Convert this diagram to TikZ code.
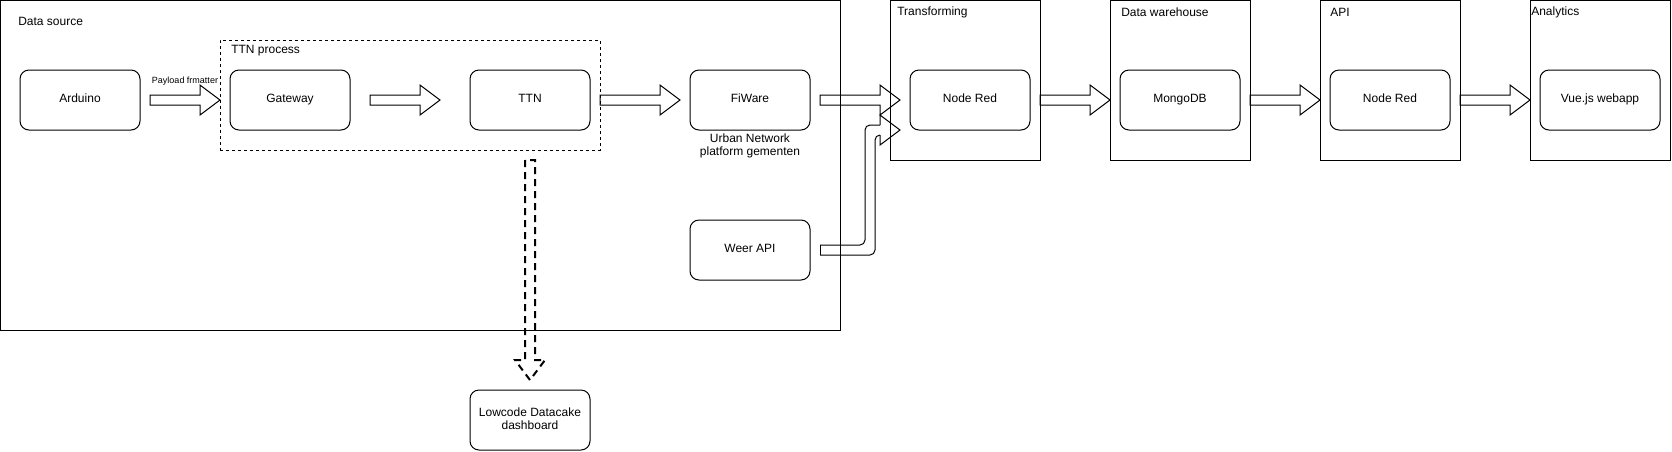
\documentclass[tikz,border=0pt]{standalone}
\usepackage{fontspec}
\setmainfont{Liberation Sans}
\usetikzlibrary{calc}

% hollow block arrow from one node to the next (gaps in px)
\newcommand\flexarrow[4]{%
  \coordinate (ft) at ($(#1.east)+(#2,0)$);
  \coordinate (fh) at ($(#3.west)+(-#4,0)$);
  \draw[flexline] ($(ft)+(0,-5)$) -- ($(fh)+(-20,-5)$) -- ($(fh)+(-20,-15)$) -- (fh)
    -- ($(fh)+(-20,15)$) -- ($(fh)+(-20,5)$) -- ($(ft)+(0,5)$) -- cycle;}

\begin{document}
\begin{tikzpicture}[x=0.75pt, y=-0.75pt, font=\fontsize{9}{10.1}\selectfont]
\tikzstyle{block}=[draw, line width=0.75pt, rounded corners=6.75pt, minimum width=90pt, minimum height=45pt,
  text centered, align=center, text depth=2.25pt, anchor=north west, inner sep=0pt, outer sep=0pt]
\tikzstyle{group}=[draw, line width=0.75pt, anchor=north west, inner sep=0pt, outer sep=0pt, minimum height=120pt]
\tikzstyle{title}=[anchor=west, inner sep=0pt]
\tikzstyle{flexline}=[line width=0.75pt, line join=miter]
\tikzstyle{dashline}=[line width=1.5pt, dash pattern=on 5.25pt off 3.75pt]
\useasboundingbox (0,0) rectangle (1672,451);

% containers
\node[group, minimum width=630pt, minimum height=247.5pt] (source) at (0.5,0.5) {};
\node[group, minimum width=285pt, minimum height=82.5pt, dash pattern=on 2.25pt off 2.25pt] (ttnproc) at (220,40) {};
\node[group, minimum width=112.5pt] (transform) at (890,0.5) {};
\node[group, minimum width=105pt] (dwh) at (1110,0.5) {};
\node[group, minimum width=105pt] (api) at (1320,0.5) {};
\node[group, minimum width=105pt] (analytics) at (1530,0.5) {};

\node[title] (sourcet) at (18,21) {Data source};
\node[title] (ttnproct) at (231,51) {TTN process};
\node[title] (transformt) at (897,12) {Transforming};
\node[title] (dwht) at (1121,12) {Data warehouse};
\node[title] (apit) at (1330,12) {API};
\node[title] (analyticst) at (1531,12) {Analytics};

% blocks
\node[block] (arduino) at (20,70) {Arduino};
\node[block] (gateway) at (230,70) {Gateway};
\node[block] (ttn) at (470,70) {TTN};
\node[block] (fiware) at (690,70) {FiWare};
\node[block] (weer) at (690,220) {Weer API};
\node[block] (lowcode) at (470,390) {Lowcode Datacake\\dashboard};
\node[block] (nodered) at (910,70) {Node Red};
\node[block] (mongodb) at (1120,70) {MongoDB};
\node[block] (noderedapi) at (1330,70) {Node Red};
\node[block] (vue) at (1540,70) {Vue.js webapp};

\node[inner sep=0pt, font=\fontsize{6.75}{8}\selectfont] (payload) at (185,81) {Payload frmatter};
\node[inner sep=0pt, align=center] (urban) at (750,146) {Urban Network\\platform gementen};

% arrows
\flexarrow{arduino}{10}{gateway}{10}
\flexarrow{gateway}{20}{ttn}{30}
\flexarrow{ttn}{10}{fiware}{10}
\flexarrow{fiware}{10}{nodered}{10}
\flexarrow{nodered}{10}{mongodb}{10}
\flexarrow{mongodb}{10}{noderedapi}{10}
\flexarrow{noderedapi}{10}{vue}{10}

\coordinate (wt) at ($(weer.east)+(10,0)$);
\coordinate (wh) at ($(nodered.south west)+(-10,0)$);
\draw[flexline, rounded corners=3.75pt] ($(wt)+(0,-5)$) -- ($(wt)+(45,-5)$) -- ($(wh)+(-35,-5)$) -- ($(wh)+(-20,-5)$);
\draw[flexline, rounded corners=3.75pt] ($(wh)+(-20,5)$) -- ($(wh)+(-25,5)$) -- ($(wt)+(55,5)$) -- ($(wt)+(0,5)$);
\draw[flexline] ($(wt)+(0,-5)$) -- ($(wt)+(0,5)$);
\draw[flexline] ($(wh)+(-20,-5)$) -- ($(wh)+(-20,-15)$) -- (wh) -- ($(wh)+(-20,15)$) -- ($(wh)+(-20,5)$);

\coordinate (dt) at ($(ttn.south)+(0,30)$);
\coordinate (dh) at ($(lowcode.north)+(0,-10)$);
\draw[flexline, dashline] ($(dt)+(-5,0)$) -- ($(dh)+(-5,-20)$) -- ($(dh)+(-15,-20)$) -- (dh)
  -- ($(dh)+(15,-20)$) -- ($(dh)+(5,-20)$) -- ($(dt)+(5,0)$) -- cycle;
\end{tikzpicture}
\end{document}
